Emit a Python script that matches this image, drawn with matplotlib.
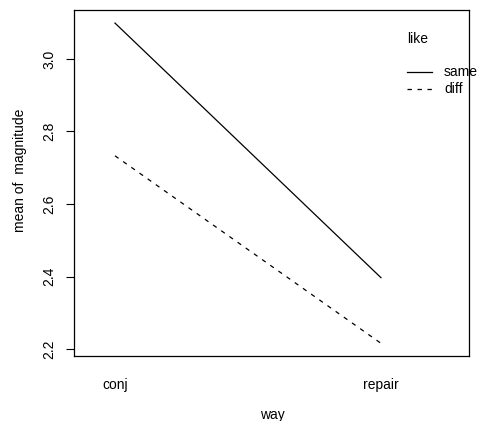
import matplotlib
matplotlib.use("Agg")
import matplotlib.pyplot as plt

plt.rcParams['font.family'] = ['Liberation Sans', 'DejaVu Sans']

way = ['conj', 'repair']
same = [3.099, 2.397]
diff = [2.733, 2.216]

fig = plt.figure(figsize=(4.78, 4.21), dpi=100)
W, H = 478, 421
ax = fig.add_axes([74 / W, 1 - 356 / H, (469 - 74) / W, (356 - 10) / H])

xs = [1, 2]
ax.plot(xs, same, color='black', lw=0.9, ls='-')
ax.plot(xs, diff, color='black', lw=0.9, ls=(0, (3.5, 4.5)))

ax.set_xlim(0.846, 2.331)
ax.set_ylim(2.181, 3.135)

fs = 10
ax.set_xticks(xs)
ax.set_xticklabels(way, fontsize=fs)
ax.tick_params(axis='x', length=0, pad=16)
ax.set_yticks([2.2, 2.4, 2.6, 2.8, 3.0])
ax.set_yticklabels(['2.2', '2.4', '2.6', '2.8', '3.0'], fontsize=fs,
                   rotation=90, va='center')
ax.tick_params(axis='y', length=6, width=0.8, pad=12)
for t in ax.get_yticklabels():
    t.set_ha('center')
for s in ax.spines.values():
    s.set_linewidth(0.9)


def px(x, y):
    return x / W, 1 - y / H


fig.text(*px(272, 415), 'way', fontsize=fs, ha='center', va='center')
fig.text(*px(20, 170), 'mean of  magnitude', fontsize=fs, ha='center', va='center',
         rotation=90)

# legend (R style)
fig.text(*px(407, 39), 'like', fontsize=fs, va='center', ha='left')
fig.add_artist(plt.Line2D([407 / W, 432 / W], [1 - 71.5 / H] * 2, color='black', lw=0.9))
fig.add_artist(plt.Line2D([407 / W, 432 / W], [1 - 89 / H] * 2, color='black', lw=0.9,
                          ls=(0, (3.5, 4.5))))
fig.text(*px(444, 71.5), 'same', fontsize=fs, va='center', ha='left')
fig.text(*px(444, 89), 'diff', fontsize=fs, va='center', ha='left')

fig.savefig('out.png', dpi=100)
